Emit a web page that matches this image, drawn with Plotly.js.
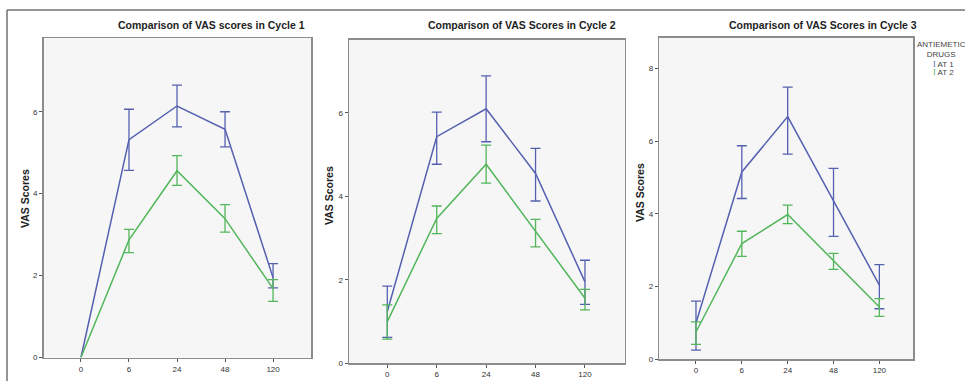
<!DOCTYPE html>
<html>
<head>
<meta charset="utf-8">
<script src="https://cdn.plot.ly/plotly-3.0.1.min.js"></script>
<style>html,body{margin:0;padding:0;background:#fff;}</style>
</head>
<body>
<div id="chart" style="width:965px;height:381px;"></div>
<script>
// ---- Data ----
const timePoints = ["0", "6", "24", "48", "120"];
const seriesNames = ["AT 1", "AT 2"];
const panelTitles = [
  "Comparison of VAS scores in Cycle 1",
  "Comparison of VAS Scores in Cycle 2",
  "Comparison of VAS Scores in Cycle 3"
];
const yAxisTitle = "VAS Scores";
const legendTitle = "ANTIEMETIC<br>DRUGS";

// Cycle 1
const at1C1Mean  = [0, 5.32, 6.14, 5.57, 1.95];
const at1C1Upper = [null, 6.06, 6.65, 6.00, 2.29];
const at1C1Lower = [null, 4.57, 5.63, 5.14, 1.70];
const at2C1Mean  = [0, 2.87, 4.56, 3.39, 1.68];
const at2C1Upper = [null, 3.13, 4.93, 3.73, 1.90];
const at2C1Lower = [null, 2.56, 4.20, 3.06, 1.37];

// Cycle 2
const at1C2Mean  = [1.24, 5.43, 6.10, 4.55, 1.95];
const at1C2Upper = [1.85, 6.02, 6.89, 5.15, 2.47];
const at1C2Lower = [0.62, 4.77, 5.31, 3.89, 1.41];
const at2C2Mean  = [1.00, 3.47, 4.77, 3.15, 1.56];
const at2C2Upper = [1.40, 3.77, 5.23, 3.45, 1.77];
const at2C2Lower = [0.58, 3.11, 4.32, 2.79, 1.28];

// Cycle 3
const at1C3Mean  = [1.00, 5.15, 6.67, 4.34, 2.04];
const at1C3Upper = [1.60, 5.87, 7.48, 5.25, 2.60];
const at1C3Lower = [0.25, 4.42, 5.64, 3.38, 1.39];
const at2C3Mean  = [0.75, 3.18, 3.98, 2.70, 1.44];
const at2C3Upper = [1.03, 3.52, 4.24, 2.91, 1.67];
const at2C3Lower = [0.41, 2.83, 3.73, 2.47, 1.18];

// ---- Styling ----
const W = 965, H = 381;
const colors = ["#5560b0", "#52b65a"];
const px = v => v / W;
const py = v => 1 - v / H;
const font = "Liberation Sans, Arial, sans-serif";

function diff(a, b) { return a.map((v, i) => (v === null || b[i] === null) ? NaN : v - b[i]); }

function makeTrace(mean, upper, lower, idx, axisSuffix) {
  return {
    type: "scatter",
    mode: "lines",
    x: timePoints,
    y: mean,
    name: seriesNames[idx],
    showlegend: false,
    xaxis: "x" + axisSuffix,
    yaxis: "y" + axisSuffix,
    line: { color: colors[idx], width: 1.5 },
    error_y: {
      type: "data",
      symmetric: false,
      array: diff(upper, mean),
      arrayminus: diff(mean, lower),
      color: colors[idx],
      thickness: 1.3,
      width: 5
    },
    hoverinfo: "skip"
  };
}

const data = [
  makeTrace(at1C1Mean, at1C1Upper, at1C1Lower, 0, ""),
  makeTrace(at2C1Mean, at2C1Upper, at2C1Lower, 1, ""),
  makeTrace(at1C2Mean, at1C2Upper, at1C2Lower, 0, "2"),
  makeTrace(at2C2Mean, at2C2Upper, at2C2Lower, 1, "2"),
  makeTrace(at1C3Mean, at1C3Upper, at1C3Lower, 0, "3"),
  makeTrace(at2C3Mean, at2C3Upper, at2C3Lower, 1, "3")
];

// panel geometry in pixels
const panels = [
  { l: 43.5, r: 311, t: 38, b: 357.5, ymax: 7.8, xr: [-0.78, 4.79], titleX: 211, yTitleX: 25, yTitleY: 199 },
  { l: 349, r: 624.5, t: 39.5, b: 363.3, ymax: 7.76, xr: [-0.775, 4.80], titleX: 522, yTitleX: 329, yTitleY: 196 },
  { l: 659.3, r: 913.3, t: 37.7, b: 359.3, ymax: 8.84, xr: [-0.80, 4.74], titleX: 823, yTitleX: 640, yTitleY: 193 }
];

const layout = {
  width: W, height: H,
  margin: { l: 0, r: 0, t: 0, b: 0, pad: 0 },
  paper_bgcolor: "#ffffff",
  plot_bgcolor: "#f6f6f6",
  showlegend: false,
  font: { family: font, color: "#333" },
  annotations: [],
  shapes: [
    { type: "line", xref: "paper", yref: "paper", x0: px(7), x1: 1, y0: py(10), y1: py(10), line: { color: "#707070", width: 1.5 } },
    { type: "line", xref: "paper", yref: "paper", x0: px(7), x1: px(7), y0: 0, y1: py(10), line: { color: "#707070", width: 1.5 } }
  ]
};

panels.forEach((p, i) => {
  const s = i === 0 ? "" : String(i + 1);
  layout["xaxis" + s] = {
    domain: [px(p.l), px(p.r)],
    anchor: "y" + s,
    type: "category",
    range: p.xr,
    showline: true, mirror: true, linecolor: "#8c8c8c", linewidth: 1.5,
    ticks: "outside", ticklen: 3, tickcolor: "#555", tickwidth: 1,
    tickfont: { size: 8, color: "#333", family: font },
    showgrid: false, zeroline: false, fixedrange: true
  };
  layout["yaxis" + s] = {
    domain: [py(p.b), py(p.t)],
    anchor: "x" + s,
    range: [0, p.ymax],
    tick0: 0, dtick: 2,
    showline: true, mirror: true, linecolor: "#8c8c8c", linewidth: 1.5,
    ticks: "outside", ticklen: 3, tickcolor: "#555", tickwidth: 1,
    tickfont: { size: 8, color: "#333", family: font },
    showgrid: false, zeroline: false, fixedrange: true
  };
  layout.annotations.push({
    text: "<b>" + panelTitles[i] + "</b>",
    xref: "paper", yref: "paper", x: px(p.titleX), y: py(25),
    xanchor: "center", yanchor: "middle", showarrow: false,
    font: { size: 10.5, color: "#222", family: font }
  });
  layout.annotations.push({
    text: "<b>" + yAxisTitle + "</b>",
    xref: "paper", yref: "paper", x: px(p.yTitleX), y: py(p.yTitleY),
    xanchor: "center", yanchor: "middle", showarrow: false, textangle: -90,
    font: { size: 10.5, color: "#222", family: font }
  });
});

// legend drawn as text
layout.annotations.push({
  text: legendTitle,
  xref: "paper", yref: "paper", x: px(941), y: py(49.5),
  xanchor: "center", yanchor: "middle", showarrow: false, align: "center",
  font: { size: 8, color: "#444", family: font }
});
seriesNames.forEach((n, i) => {
  layout.annotations.push({
    text: "<span style=\"color:" + colors[i] + ";font-family:'Liberation Serif'\">I</span> " + n,
    xref: "paper", yref: "paper", x: px(931), y: py(64 + 9 * i),
    xanchor: "left", yanchor: "middle", showarrow: false, align: "left",
    font: { size: 8, color: "#444", family: font }
  });
});

Plotly.newPlot("chart", data, layout, { staticPlot: true, displayModeBar: false });
</script>
</body>
</html>
